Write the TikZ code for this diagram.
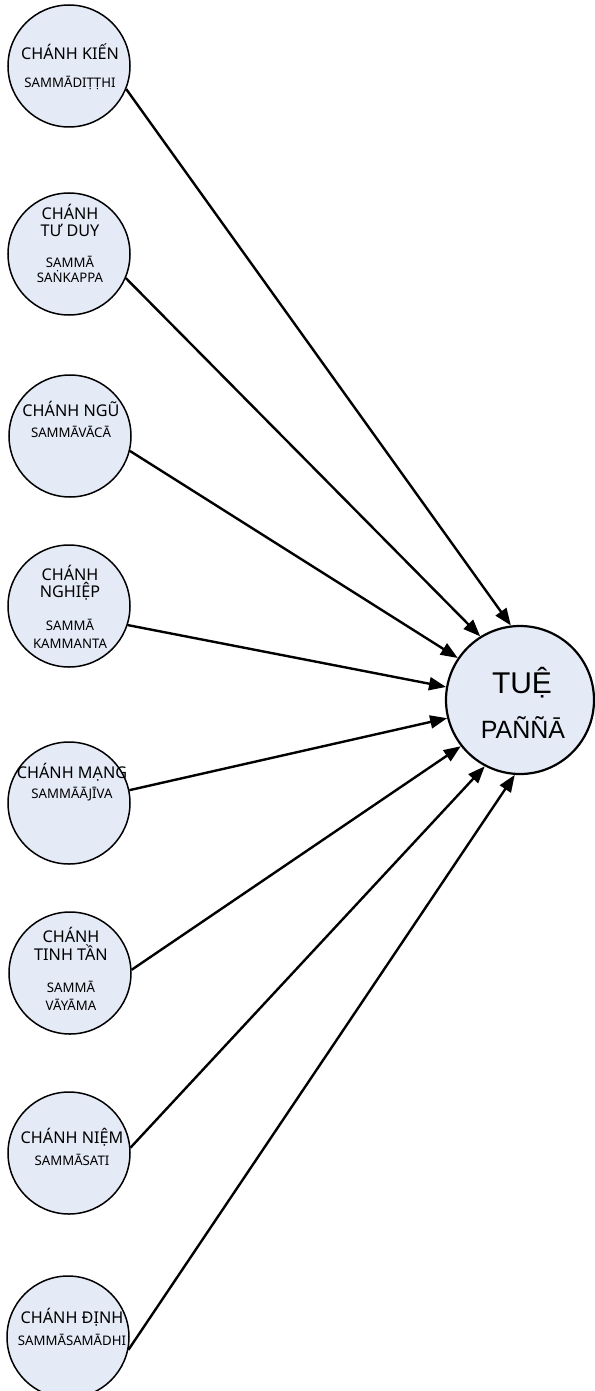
\documentclass[tikz,border=0pt]{standalone}
\usepackage{fontspec}
\setmainfont{Noto Sans}
\newfontfamily\bigfont{Liberation Sans}
\usetikzlibrary{arrows.meta}
\definecolor{nodefill}{RGB}{228,234,246}
\begin{document}
\begin{tikzpicture}[x=1pt,y=-1pt,
  small/.style={circle, draw=black, line width=1.5pt, fill=nodefill,
                minimum size=122pt, inner sep=0pt},
  big/.style={circle, draw=black, line width=2.2pt, fill=nodefill,
              minimum size=148pt, inner sep=0pt},
  headline/.style={anchor=base, inner sep=0pt, font=\fontsize{16.2}{18}\selectfont},
  subline/.style={anchor=base, inner sep=0pt, font=\fontsize{13.2}{15}\selectfont},
  link/.style={line width=2.4pt, -{Triangle[length=17pt,width=13pt]}}]
\useasboundingbox (0,0) rectangle (594,1391);

% the eight factors
\node[small] (c1) at (69,66)   {};
\node[small] (c2) at (69,254)  {};
\node[small] (c3) at (70,436)  {};
\node[small] (c4) at (69,606)  {};
\node[small] (c5) at (69,803)  {};
\node[small] (c6) at (70,973)  {};
\node[small] (c7) at (69,1153) {};
\node[small] (c8) at (68,1337) {};

% wisdom
\node[big] (p) at (520,700) {};

% labels
\node[headline] (t1a) at (70,60)   {CHÁNH KIẾN};
\node[subline]  (t1b) at (70,88)   {SAMMĀDIṬṬHI};

\node[headline] (t2a) at (70,219)  {CHÁNH};
\node[headline] (t2b) at (70,236)  {TƯ DUY};
\node[subline]  (t2c) at (70,267)  {SAMMĀ};
\node[subline]  (t2d) at (70,282)  {SAṄKAPPA};

\node[headline] (t3a) at (71,416)  {CHÁNH NGŨ};
\node[subline]  (t3b) at (71,437)  {SAMMĀVĀCĀ};

\node[headline] (t4a) at (70,580)  {CHÁNH};
\node[headline] (t4b) at (70,597)  {NGHIỆP};
\node[subline]  (t4c) at (70,630)  {SAMMĀ};
\node[subline]  (t4d) at (70,648)  {KAMMANTA};

\node[headline] (t5a) at (72,778)  {CHÁNH MẠNG};
\node[subline]  (t5b) at (72,798)  {SAMMĀĀJĪVA};

\node[headline] (t6a) at (71,942)  {CHÁNH};
\node[headline] (t6b) at (71,960)  {TINH TẦN};
\node[subline]  (t6c) at (71,992)  {SAMMĀ};
\node[subline]  (t6d) at (71,1010) {VĀYĀMA};

\node[headline] (t7a) at (72,1143) {CHÁNH NIỆM};
\node[subline]  (t7b) at (72,1165) {SAMMĀSATI};

\node[headline] (t8a) at (72,1323) {CHÁNH ĐỊNH};
\node[subline]  (t8b) at (72,1345) {SAMMĀSAMĀDHI};

\node[anchor=base, inner sep=0pt, font=\bigfont\fontsize{30}{32}\selectfont] (pa) at (522,693) {TUỆ};
\node[anchor=base, inner sep=0pt, font=\bigfont\fontsize{25}{28}\selectfont] (pb) at (523,738) {PAÑÑĀ};

% connectors
\draw[link] (c1.-22.5) -- (p.97);
\draw[link] (c2.-23)   -- (p.122);
\draw[link] (c3.-14)   -- (p.146);
\draw[link] (c4.-18)   -- (p.170);
\draw[link] (c5.12)    -- (p.194);
\draw[link] (c6.3)     -- (p.218);
\draw[link] (c7.5.6)   -- (p.242);
\draw[link] (c8.-12)   -- (p.266);
\end{tikzpicture}
\end{document}
